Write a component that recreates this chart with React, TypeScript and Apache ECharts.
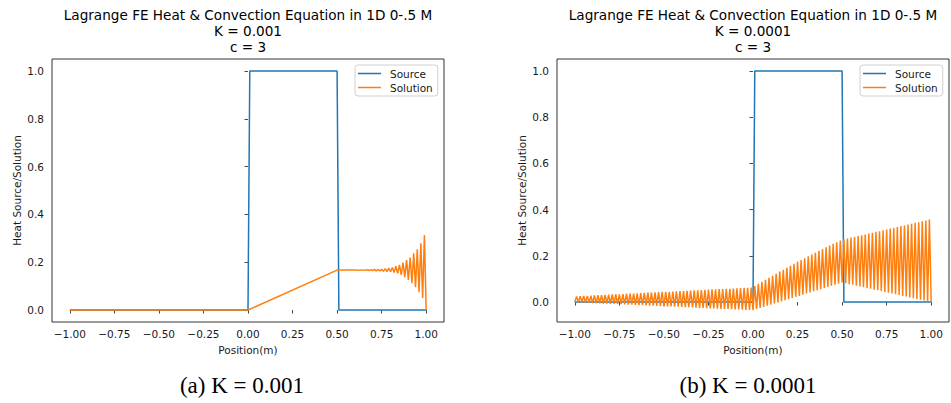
import React, { useEffect, useRef } from "react";
import * as echarts from "echarts";

// ---- data ----
const titleLinesA = ["Lagrange FE Heat & Convection Equation in 1D 0-.5 M", "K = 0.001", "c = 3"];
const titleLinesB = ["Lagrange FE Heat & Convection Equation in 1D 0-.5 M", "K = 0.0001", "c = 3"];
const captionA = "(a) K\u2005=\u20050.001";
const captionB = "(b) K\u2005=\u20050.0001";
const legendNames = ["Source", "Solution"];
const xTicks = [-1, -0.75, -0.5, -0.25, 0, 0.25, 0.5, 0.75, 1];
const yTicks = [0, 0.2, 0.4, 0.6, 0.8, 1.0];

// finite-element mesh: nodes from -1 to 1, step 0.01 (201 nodes)
const meshStart = -1;
const meshStep = 0.01;
const meshCount = 201;

// heat source (same in both panels)
const sourceX = [-1, 0, 0.01, 0.5, 0.51, 1];
const sourceY = [0, 0, 1, 1, 0, 0];

// panel (a) solution: flat 0 on [-1,0], straight rise to 0.5, then nodes 0.50..1.00
const solutionAHeadX = [-1, 0];
const solutionAHeadY = [0, 0];
const solutionATailY = [
  0.167, 0.167, 0.167, 0.167, 0.167, 0.167, 0.167, 0.167, 0.167, 0.167,
  0.167, 0.168, 0.166, 0.168, 0.166, 0.168, 0.166, 0.169, 0.165, 0.169,
  0.165, 0.170, 0.164, 0.170, 0.163, 0.171, 0.162, 0.173, 0.161, 0.175,
  0.160, 0.178, 0.157, 0.183, 0.153, 0.189, 0.147, 0.198, 0.138, 0.209,
  0.126, 0.220, 0.112, 0.237, 0.095, 0.254, 0.075, 0.279, 0.050, 0.314,
  0.000,
];

// panel (b) solution: values at even nodes (low side) and odd nodes (high side)
const solutionBEven = [
  0.000, -0.001, -0.001, -0.002, -0.003, -0.004, -0.004, -0.005, -0.006, -0.006,
  -0.007, -0.008, -0.008, -0.009, -0.010, -0.011, -0.011, -0.012, -0.013, -0.013,
  -0.014, -0.015, -0.015, -0.016, -0.017, -0.018, -0.018, -0.019, -0.020, -0.020,
  -0.021, -0.022, -0.022, -0.023, -0.024, -0.025, -0.025, -0.026, -0.027, -0.027,
  -0.028, -0.029, -0.029, -0.030, -0.031, -0.032, -0.032, -0.033, -0.034, -0.034,
  -0.035,
  -0.030, -0.025, -0.021, -0.016, -0.011, -0.006, -0.001, 0.003, 0.008, 0.013,
  0.018, 0.023, 0.027, 0.032, 0.037, 0.042, 0.047, 0.051, 0.056, 0.061,
  0.066, 0.071, 0.075, 0.080, 0.085,
  0.082, 0.078, 0.075, 0.071, 0.068,
  0.065, 0.061, 0.058, 0.054, 0.051, 0.048, 0.044, 0.041, 0.037, 0.034,
  0.031, 0.027, 0.024, 0.020, 0.017, 0.014, 0.010, 0.007, 0.003, 0.000,
];
const solutionBOdd = [
  0.025, 0.026, 0.027, 0.027, 0.028, 0.029, 0.030, 0.030, 0.031, 0.032,
  0.033, 0.034, 0.034, 0.035, 0.036, 0.037, 0.037, 0.038, 0.039, 0.040,
  0.041, 0.041, 0.042, 0.043, 0.044, 0.044, 0.045, 0.046, 0.047, 0.048,
  0.048, 0.049, 0.050, 0.051, 0.051, 0.052, 0.053, 0.054, 0.055, 0.055,
  0.056, 0.057, 0.058, 0.058, 0.059, 0.060, 0.061, 0.062, 0.062, 0.063,
  0.070, 0.079, 0.088, 0.097, 0.105, 0.114, 0.123, 0.132, 0.140, 0.149,
  0.157, 0.166, 0.174, 0.182, 0.190, 0.198, 0.206, 0.214, 0.222, 0.230,
  0.237, 0.245, 0.252, 0.259, 0.267,
  0.272, 0.275, 0.279, 0.282, 0.286, 0.289, 0.293, 0.297, 0.300, 0.304,
  0.307, 0.311, 0.314, 0.318, 0.321, 0.325, 0.329, 0.332, 0.336, 0.339,
  0.343, 0.346, 0.350, 0.353, 0.357,
];

const BLUE = "#1f77b4";
const ORANGE = "#ff7f0e";
const FONT = "DejaVu Sans";
const INK = "#1a1a1a";
const FS = 10.5;

export default function App() {
  const ref = useRef<HTMLDivElement>(null);

  useEffect(() => {
    if (!ref.current) return;
    const chart = echarts.init(ref.current, null, { renderer: "svg" });

    const nodes = Array.from({ length: meshCount }, (_, i) => +(meshStart + i * meshStep).toFixed(2));
    const tailStart = nodes.indexOf(0.5);

    const sourceData = sourceX.map((x, i) => [x, sourceY[i]]);
    const solA = [
      ...solutionAHeadX.map((x, i) => [x, solutionAHeadY[i]]),
      ...solutionATailY.map((y, i) => [nodes[tailStart + i], y]),
    ];
    const solB = nodes.map((x, i) => [x, i % 2 === 0 ? solutionBEven[i / 2] : solutionBOdd[(i - 1) / 2]]);

    const gridW = 392;
    const gridH = 263;
    const grids = [
      { left: 52, top: 59, width: gridW, height: gridH },
      { left: 557, top: 59, width: gridW, height: gridH },
    ];

    const xAxisFor = (gi: number) => ({
      type: "value",
      gridIndex: gi,
      min: -1.1,
      max: 1.1,
      name: "Position(m)",
      nameLocation: "middle",
      nameGap: 22,
      nameTextStyle: { fontFamily: FONT, fontSize: FS, color: INK },
      axisLine: { show: false },
      splitLine: { show: false },
      axisTick: {
        show: true,
        customValues: xTicks,
        length: 3.5,
        lineStyle: { color: INK, width: 0.8 },
      },
      axisLabel: {
        customValues: xTicks,
        margin: 6,
        fontFamily: FONT,
        fontSize: FS,
        color: INK,
        formatter: (v: number) => (v < 0 ? "\u2212" : "") + Math.abs(v).toFixed(2),
      },
    });
    const yAxisFor = (gi: number, min: number, max: number) => ({
      type: "value",
      gridIndex: gi,
      min,
      max,
      name: "Heat Source/Solution",
      nameLocation: "middle",
      nameGap: 30,
      nameTextStyle: { fontFamily: FONT, fontSize: FS, color: INK },
      axisLine: { show: false },
      splitLine: { show: false },
      axisTick: {
        show: true,
        customValues: yTicks,
        length: 3.5,
        lineStyle: { color: INK, width: 0.8 },
      },
      axisLabel: {
        customValues: yTicks,
        margin: 8,
        fontFamily: FONT,
        fontSize: FS,
        color: INK,
        formatter: (v: number) => v.toFixed(1),
      },
    });

    const legendFor = (left: number) => ({
      left,
      top: 65,
      orient: "vertical",
      data: legendNames,
      icon: "rect",
      itemWidth: 23,
      itemHeight: 1.5,
      itemGap: 3,
      padding: [3, 5, 3, 3],
      backgroundColor: "#fff",
      borderColor: "#d0d0d0",
      borderWidth: 1,
      borderRadius: 3,
      selectedMode: false,
      textStyle: { fontFamily: FONT, fontSize: FS, color: INK, padding: [0, 0, 0, 4] },
    });

    const lineSeries = (name: string, color: string, data: number[][], gi: number) => ({
      name,
      type: "line",
      xAxisIndex: gi,
      yAxisIndex: gi,
      data,
      color,
      showSymbol: false,
      symbol: "none",
      lineStyle: { color, width: 1.5 },
      emphasis: { disabled: true },
    });

    const titleText = (lines: string[], cx: number) => ({
      type: "text",
      x: cx,
      y: 7,
      style: {
        text: lines.join("\n"),
        fill: "#000",
        font: `13.6px '${FONT}'`,
        textAlign: "center",
        textVerticalAlign: "top",
        lineHeight: 16,
      },
    });
    const captionText = (text: string, cx: number) => ({
      type: "text",
      x: cx,
      y: 385,
      style: {
        text,
        fill: "#000",
        font: "23px 'Liberation Serif'",
        textAlign: "center",
        textVerticalAlign: "middle",
      },
    });

    chart.setOption({
      animation: false,
      backgroundColor: "#fff",
      grid: grids.map((g) => ({
        ...g,
        show: true,
        borderColor: "#000",
        borderWidth: 0.8,
        backgroundColor: "#fff",
        containLabel: false,
      })),
      xAxis: [xAxisFor(0), xAxisFor(1)],
      yAxis: [yAxisFor(0, -0.05, 1.05), yAxisFor(1, -0.086, 1.052)],
      legend: [legendFor(355), legendFor(860)],
      series: [
        lineSeries("Source", BLUE, sourceData, 0),
        lineSeries("Solution", ORANGE, solA, 0),
        lineSeries("Source", BLUE, sourceData, 1),
        lineSeries("Solution", ORANGE, solB, 1),
      ],
      graphic: [
        titleText(titleLinesA, 248),
        titleText(titleLinesB, 753),
        captionText(captionA, 242),
        captionText(captionB, 748),
      ],
    });

    return () => chart.dispose();
  }, []);

  return (
    <div
      ref={ref}
      style={{ position: "fixed", left: 0, top: 0, width: 951, height: 403, background: "#fff" }}
    />
  );
}
